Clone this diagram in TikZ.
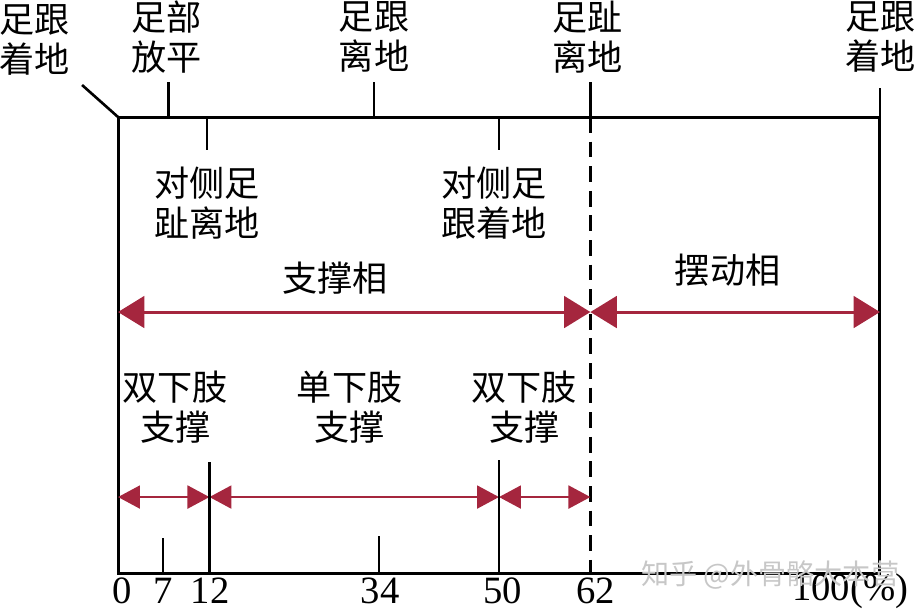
\documentclass[tikz,border=0pt]{standalone}
\usepackage{fontspec}
\setmainfont{Liberation Serif}
\newfontfamily\cjk{Noto Sans CJK SC}
\usetikzlibrary{arrows.meta}
\definecolor{phasered}{RGB}{165,38,62}
\tikzset{
 frameline/.style={line width=1.7pt,black},
 tickline/.style={line width=1.5pt,black},
 event/.style={font=\cjk\fontsize{20}{23}\selectfont,align=center,inner sep=0pt},
 pct/.style={font=\fontsize{22}{24}\selectfont,inner sep=0pt},
 bigspan/.style={draw=phasered,line width=1.7pt,{Triangle[length=15pt,width=18pt]}-{Triangle[length=15pt,width=18pt]}},
 smallspan/.style={draw=phasered,line width=1.5pt,{Triangle[length=12.5pt,width=13pt]}-{Triangle[length=12.5pt,width=13pt]}}
}
\begin{document}
\begin{tikzpicture}[x=0.1524cm,y=-0.02cm]
 \useasboundingbox (-15.49,0) rectangle (104.86,612);
 % corners of the cycle
 \coordinate (tl) at (0,117); \coordinate (br) at (100,573);
 \coordinate (tr) at (100,117); \coordinate (bl) at (0,573);
 \coordinate (toe) at (62,117); \coordinate (toeb) at (62,573);
 \draw[frameline] (tl) rectangle (br);
 \draw[frameline,dashed,dash pattern=on 9pt off 5pt] (toe)--(toeb);
 % events above the frame
 \node[event] (hs) at (-10.9,40) {足跟\\着地};
 \node[event] (ff) at (6.4,37) {足部\\放平};
 \node[event] (ho) at (33.6,37) {足跟\\离地};
 \node[event] (to) at (61.6,37) {足趾\\离地};
 \node[event] (hs2) at (100.1,37) {足跟\\着地};
 \coordinate (hsl) at (-4.72,85); \coordinate (ffl) at (6.6,82); \coordinate (ff0) at (6.6,117);
 \coordinate (hol) at (33.6,82); \coordinate (ho0) at (33.6,117);
 \coordinate (tol) at (62,82); \coordinate (hs2l) at (100,88);
 \draw[tickline] (hsl)--(tl);
 \draw[tickline] (ffl)--(ff0);
 \draw[tickline] (hol)--(ho0);
 \draw[tickline] (tol)--(toe);
 \draw[tickline] (hs2l)--(tr);
 % opposite foot
 \coordinate (ot0) at (11.7,117); \coordinate (ot1) at (11.7,150);
 \coordinate (oh0) at (50,117); \coordinate (oh1) at (50,150);
 \draw[tickline] (ot0)--(ot1);
 \draw[tickline] (oh0)--(oh1);
 \node[event] (otl) at (11.7,203) {对侧足\\趾离地};
 \node[event] (ohl) at (49.4,203) {对侧足\\跟着地};
 % stance and swing
 \node[event] (stance) at (28.5,278) {支撑相};
 \node[event] (swing) at (80,270) {摆动相};
 \coordinate (st0) at (0,312); \coordinate (st1) at (62,312); \coordinate (sw1) at (100,312);
 \draw[bigspan] (st0)--(st1);
 \draw[bigspan] (st1)--(sw1);
 % support
 \node[event] (ds1) at (7.5,407) {双下肢\\支撑};
 \node[event] (ss) at (30.4,407) {单下肢\\支撑};
 \node[event] (ds2) at (53.3,407) {双下肢\\支撑};
 \coordinate (a0) at (0,497); \coordinate (a12) at (12,497);
 \coordinate (a50) at (50,497); \coordinate (a62) at (62,497);
 \draw[smallspan] (a0)--(a12);
 \draw[smallspan] (a12)--(a50);
 \draw[smallspan] (a50)--(a62);
 \coordinate (v12) at (12,462); \coordinate (b12) at (12,573);
 \coordinate (v50) at (50,460); \coordinate (b50) at (50,573);
 \coordinate (v7) at (5.9,538); \coordinate (b7) at (5.9,573);
 \coordinate (v34) at (34.25,536); \coordinate (b34) at (34.25,573);
 \draw[tickline] (v12)--(b12);
 \draw[tickline] (v50)--(b50);
 \draw[tickline] (v7)--(b7);
 \draw[tickline] (v34)--(b34);
 % percent scale
 \node[pct] (p0) at (0.5,591) {0};
 \node[pct] (p7) at (5.9,591) {7};
 \node[pct] (p12) at (12.1,591) {12};
 \node[pct] (p34) at (34.4,591) {34};
 \node[pct] (p50) at (50.5,591) {50};
 \node[pct] (p62) at (62.7,591) {62};
 \node[pct] (p100) at (96.1,591) {100(\%)};
 \node[font=\cjk\fontsize{16}{18}\selectfont,text=black!22,inner sep=0pt] (wm) at (85.6,575) {知乎 @外骨骼大本营};
\end{tikzpicture}
\end{document}
